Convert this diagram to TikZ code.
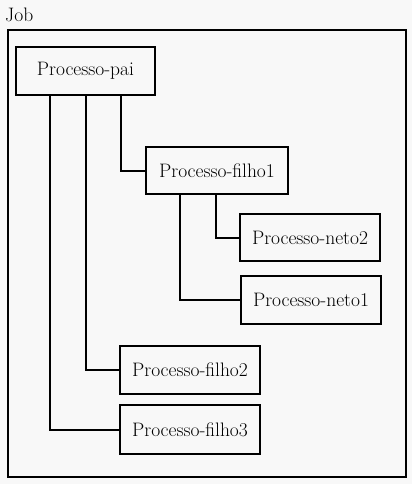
\documentclass[tikz,border=0pt]{standalone}
\definecolor{bggray}{HTML}{F8F8F8}

\begin{document}
\begin{tikzpicture}[x=1pt,y=1pt]
        \tikzset{every node/.style={inner sep=0pt, font=\fontsize{19.5}{22}\selectfont}}
        \tikzset{procbox/.style={draw=black, line width=2pt, minimum width=140pt, minimum height=48pt}}
        \tikzset{link/.style={draw=black, line width=2pt}}
        \fill [bggray] (0,0) rectangle (412,-484);
        \useasboundingbox (0,0) rectangle (412,-484);
        \node [draw=black, line width=2pt, minimum width=398pt, minimum height=447pt] (job) at (207,-253.5) {};
        \node [anchor=base west] (joblabel) at (5,-22) {Job};
        \node [procbox, minimum width=139pt] (pai) at (85.5,-71) {Processo-pai};
        \node [procbox, minimum width=142pt, minimum height=47pt] (filho1) at (217,-170.5) {Processo-filho1};
        \node [procbox, minimum height=47pt] (neto2) at (310,-237.5) {Processo-neto2};
        \node [procbox] (neto1) at (311,-300) {Processo-neto1};
        \node [procbox] (filho2) at (190,-370) {Processo-filho2};
        \node [procbox, minimum height=49pt] (filho3) at (190,-429.5) {Processo-filho3};
        \draw [link] ([xshift=35.5pt]pai.south) |- (filho1.west);
        \draw [link] ([xshift=0.5pt]pai.south) |- (filho2.west);
        \draw [link] ([xshift=-35.5pt]pai.south) |- (filho3.west);
        \draw [link] ([xshift=-1pt]filho1.south) |- (neto2.west);
        \draw [link] ([xshift=-37pt]filho1.south) |- (neto1.west);
\end{tikzpicture}
\end{document}
